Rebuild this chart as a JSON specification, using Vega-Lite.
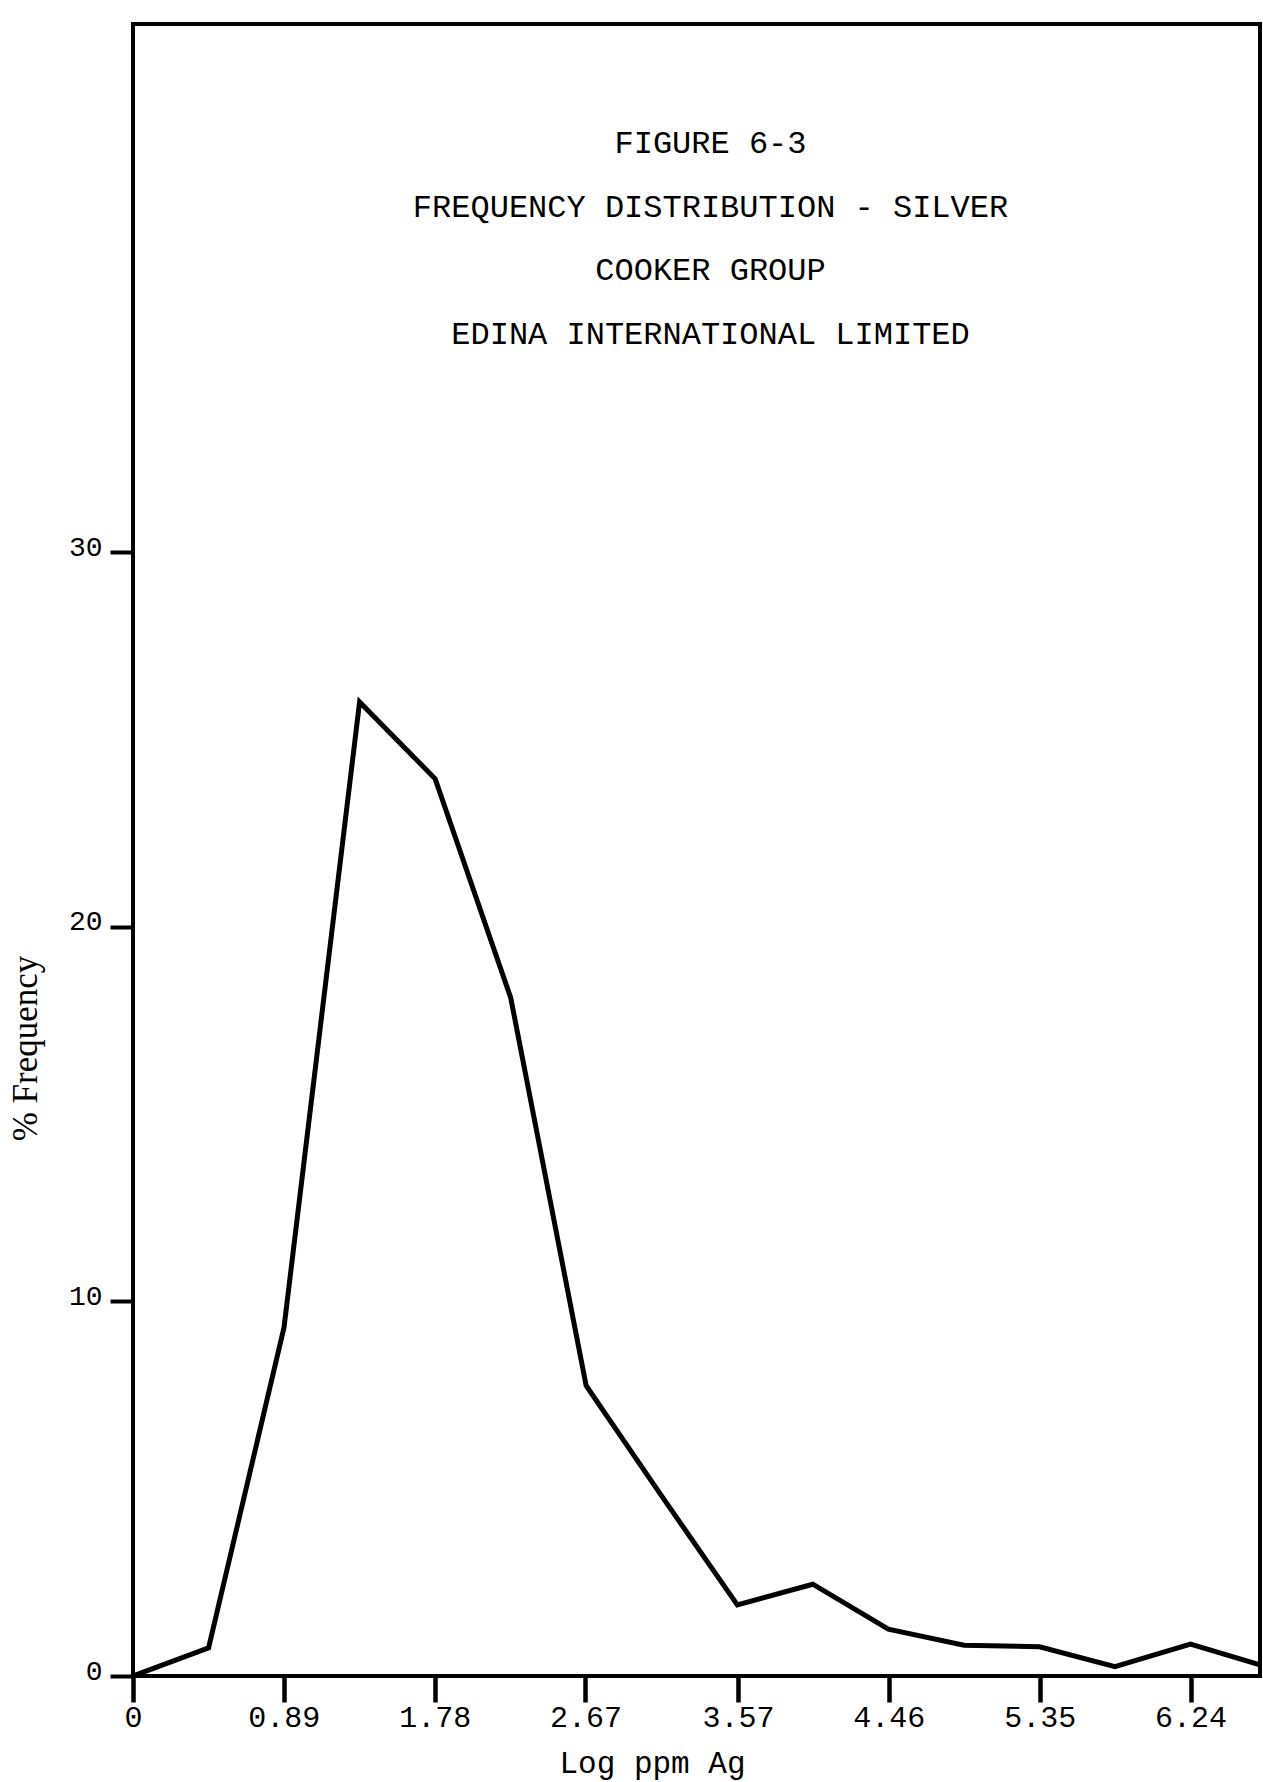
{
  "$schema": "https://vega.github.io/schema/vega-lite/v6.json",
  "width": 1127,
  "height": 1652,
  "autosize": {"type": "none"},
  "padding": {"left": 133, "top": 24, "right": 3, "bottom": 106},
  "background": "white",
  "title": {
    "text": ["FIGURE 6-3", "FREQUENCY DISTRIBUTION - SILVER", "COOKER GROUP", "EDINA INTERNATIONAL LIMITED"],
    "font": "Liberation Mono",
    "fontSize": 32,
    "fontWeight": "normal",
    "color": "black",
    "lineHeight": 63.7,
    "anchor": "middle",
    "frame": "group",
    "orient": "top",
    "baseline": "top",
    "offset": -327,
    "dx": 14
  },
  "data": {
    "values": [
      {"log_ppm_ag": 0, "pct_frequency": 0},
      {"log_ppm_ag": 0.446, "pct_frequency": 0.75},
      {"log_ppm_ag": 0.891, "pct_frequency": 9.3},
      {"log_ppm_ag": 1.337, "pct_frequency": 26.0},
      {"log_ppm_ag": 1.783, "pct_frequency": 23.95},
      {"log_ppm_ag": 2.229, "pct_frequency": 18.1},
      {"log_ppm_ag": 2.674, "pct_frequency": 7.75},
      {"log_ppm_ag": 3.12, "pct_frequency": 4.8},
      {"log_ppm_ag": 3.566, "pct_frequency": 1.9},
      {"log_ppm_ag": 4.011, "pct_frequency": 2.45},
      {"log_ppm_ag": 4.457, "pct_frequency": 1.25},
      {"log_ppm_ag": 4.903, "pct_frequency": 0.82},
      {"log_ppm_ag": 5.349, "pct_frequency": 0.78},
      {"log_ppm_ag": 5.794, "pct_frequency": 0.25},
      {"log_ppm_ag": 6.24, "pct_frequency": 0.85},
      {"log_ppm_ag": 6.686, "pct_frequency": 0.25}
    ]
  },
  "mark": {"type": "line", "color": "black", "strokeWidth": 5, "strokeJoin": "miter", "clip": true},
  "encoding": {
    "x": {
      "field": "log_ppm_ag",
      "type": "quantitative",
      "scale": {"domain": [0, 6.65], "nice": false, "zero": false},
      "axis": {
        "values": [0, 0.89, 1.78, 2.67, 3.57, 4.46, 5.35, 6.24],
        "format": ".2~f",
        "domain": false,
        "grid": false,
        "ticks": true,
        "tickSize": 26,
        "tickWidth": 4.5,
        "tickColor": "black",
        "labelFont": "Liberation Mono",
        "labelFontSize": 30,
        "labelColor": "black",
        "labelPadding": 0,
        "labelBaseline": "top",
        "labelFlush": false,
        "labelOverlap": false,
        "labelBound": false,
        "title": "Log ppm Ag",
        "titleFont": "Liberation Mono",
        "titleFontSize": 31,
        "titleFontWeight": "normal",
        "titleColor": "black",
        "titleX": 519,
        "titleY": 96,
        "titleAlign": "center",
        "titleBaseline": "alphabetic"
      }
    },
    "y": {
      "field": "pct_frequency",
      "type": "quantitative",
      "scale": {"domain": [0, 44.1], "nice": false},
      "axis": {
        "values": [0, 10, 20, 30],
        "domain": false,
        "grid": false,
        "tickSize": 23,
        "tickWidth": 4,
        "tickColor": "black",
        "labelFont": "Liberation Mono",
        "labelFontSize": 28,
        "labelColor": "black",
        "labelPadding": 8,
        "labelBaseline": "middle",
        "labelOffset": -5,
        "labelOverlap": false,
        "labelBound": false,
        "labelFlush": false,
        "title": "% Frequency",
        "titleFont": "Liberation Serif",
        "titleFontSize": 35,
        "titleFontWeight": "normal",
        "titleColor": "black",
        "titleX": -108,
        "titleY": 1024,
        "titleAngle": -90,
        "titleAlign": "center",
        "titleBaseline": "middle"
      }
    }
  },
  "config": {
    "view": {"stroke": "black", "strokeWidth": 4},
    "axis": {"grid": false}
  }
}
